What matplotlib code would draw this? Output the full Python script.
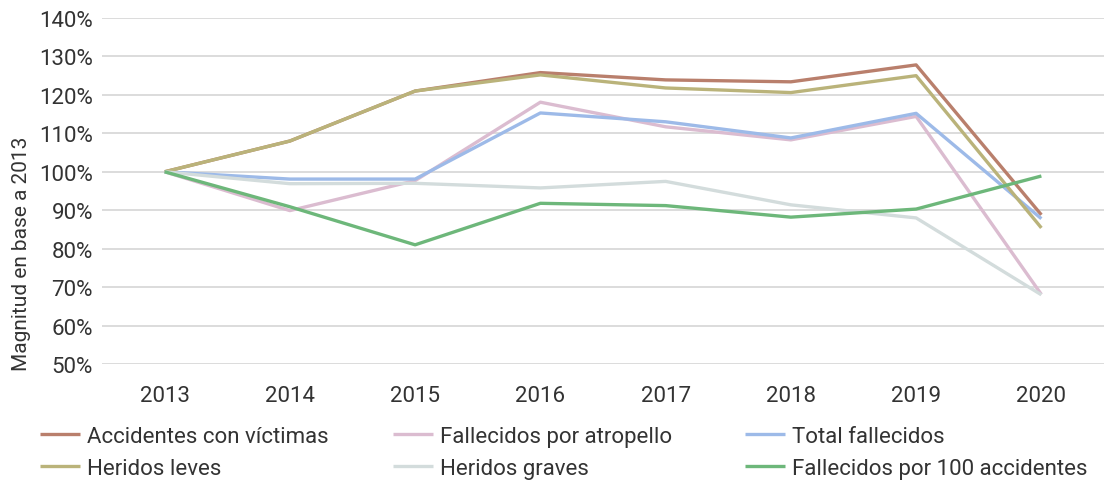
import matplotlib
matplotlib.use("Agg")
import matplotlib.pyplot as plt
from matplotlib.ticker import FuncFormatter

plt.rcParams['font.family'] = ['Roboto', 'DejaVu Sans']

years = ["2013", "2014", "2015", "2016", "2017", "2018", "2019", "2020"]
accidentes = [100, 108, 121, 125.8, 123.9, 123.4, 127.8, 88.8]
atropello = [100, 89.9, 97.7, 118.1, 111.7, 108.3, 114.4, 68.1]
total_fall = [100, 98.1, 98.1, 115.3, 113.0, 108.8, 115.2, 87.8]
leves = [100, 108, 121, 125.2, 121.8, 120.6, 125.0, 85.4]
graves = [100, 96.9, 97.0, 95.8, 97.5, 91.4, 88.0, 68.0]
f100 = [100, 90.9, 81.0, 91.8, 91.2, 88.2, 90.3, 98.9]

series = [
    ("Accidentes con víctimas", accidentes, "#B97F6C"),
    ("Fallecidos por atropello", atropello, "#DBBCD0"),
    ("Total fallecidos", total_fall, "#9DBAE8"),
    ("Heridos leves", leves, "#BAB37A"),
    ("Heridos graves", graves, "#D3DCDC"),
    ("Fallecidos por 100 accidentes", f100, "#6DB77A"),
]

W, H = 1104, 481
fig = plt.figure(figsize=(W/100, H/100), dpi=100)
ax = fig.add_axes([102/W, 1-365/H, 1-102/W, (365-19)/H])

x = list(range(len(years)))
handles = {}
for name, vals, col in series:
    h, = ax.plot(x, vals, color=col, lw=2.4, label=name, solid_capstyle='butt')
    handles[name] = h

ax.set_xlim(-0.5, len(years) - 0.5)
ax.set_ylim(50, 140)
ax.set_yticks(range(50, 141, 10))
ax.yaxis.set_major_formatter(FuncFormatter(lambda v, p: f"{int(v)}%"))
ax.set_xticks(x)
ax.set_xticklabels(years)
ax.grid(axis='y', color='#D9D9D9', lw=1.3)
ax.set_axisbelow(True)
for s in ax.spines.values():
    s.set_visible(False)
ax.tick_params(axis='both', length=0, labelsize=16, colors='#333333')
ax.tick_params(axis='x', pad=15)
ax.tick_params(axis='y', pad=6.5)
fig.text(22/W, 1-254/H, "Magnitud en base a 2013", rotation=90, fontsize=15,
         color='#333333', ha='center', va='center')

cols = [
    (40, ["Accidentes con víctimas", "Heridos leves"]),
    (393, ["Fallecidos por atropello", "Heridos graves"]),
    (745, ["Total fallecidos", "Fallecidos por 100 accidentes"]),
]
for xpx, names in cols:
    leg = fig.legend([handles[n] for n in names], names, loc='upper left',
                     bbox_to_anchor=(xpx/W, 1-427/H), frameon=False, fontsize=16,
                     handlelength=1.8, handletextpad=0.3, labelspacing=0.5,
                     borderpad=0, borderaxespad=0, labelcolor='#333333')

fig.savefig("out.png", dpi=100)
